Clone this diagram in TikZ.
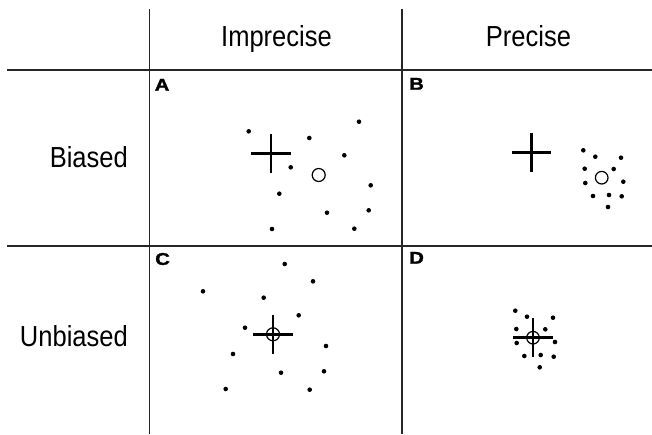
\documentclass[tikz,border=0pt]{standalone}
\usepackage{fontspec}
\setmainfont{Liberation Sans}
\newfontfamily\hdrfont[FakeStretch=0.88]{Liberation Sans}
\newfontfamily\tagfont[FakeStretch=1.2,FakeBold=1.5]{Liberation Sans}
\begin{document}
\begin{tikzpicture}[x=1pt,y=-1pt,
  grid/.style={line width=1.1pt,draw=black!85},
  header/.style={font=\hdrfont\fontsize{29}{30}\selectfont,inner sep=0pt},
  tag/.style={font=\tagfont\bfseries\fontsize{17}{17}\selectfont,inner sep=0pt,anchor=north west},
  crossbar/.style={line width=2.5pt,line cap=butt},
  meanring/.style={line width=1.2pt},
  shot/.style={fill=black}]
\useasboundingbox (0,0) rectangle (652,434);

% table rules
\draw[grid] (149.5,9) -- (149.5,434);
\draw[grid] (402,9) -- (402,434);
\draw[grid] (7,70) -- (652,70);
\draw[grid] (7,246) -- (652,246);

% column and row headings
\node[header,anchor=base] (colI) at (276.5,46.7) {Imprecise};
\node[header,anchor=base] (colP) at (528.5,46.7) {Precise};
\node[header,anchor=base east] (rowB) at (128,167.3) {Biased};
\node[header,anchor=base east] (rowU) at (128,346.5) {Unbiased};

% panel letters
\node[tag] (tA) at (154.5,78.8) {A};
\node[tag] (tB) at (409,77.8) {B};
\node[tag] (tC) at (155,252.8) {C};
\node[tag] (tD) at (409,251.8) {D};

\newcommand{\shots}[1]{\foreach \p in {#1} \fill[shot] \p circle (2.3);}

% A: biased, imprecise
\draw[crossbar] (251,153.3) -- (291,153.3);
\draw[crossbar] (271,134.3) -- (271,172.5);
\draw[meanring] (318.7,175) circle (6.5);
\shots{(248.7,131.3),(309.3,138),(359,121.7),(344.3,155.3),(290.7,167.3),(370.7,185.3),(279.3,193.7),(327,212.7),(368.7,210.3),(272,229),(354.3,228.7)}

% B: biased, precise
\draw[crossbar] (512,152.7) -- (551.4,152.7);
\draw[crossbar] (531.7,133.4) -- (531.7,172);
\draw[meanring] (601.7,177.7) circle (6.3);
\shots{(583.3,150.3),(595.3,156.7),(621,157.7),(584.7,168.7),(613.7,169),(585.3,183),(623.3,181.7),(593,196),(609,195),(621.7,196.3),(608,207)}

% C: unbiased, imprecise
\draw[crossbar] (253.3,334.3) -- (292.7,334.3);
\draw[crossbar] (273,314.8) -- (273,353.8);
\draw[meanring] (273,334.3) circle (6.5);
\shots{(284.7,264),(313,281.3),(203,291.3),(263.7,297.7),(298.7,315.3),(245,327.7),(326,346),(233,354),(281,372.7),(324,371.3),(225.7,389),(309.7,389.7)}

% D: unbiased, precise
\draw[crossbar] (513.3,337.7) -- (552.7,337.7);
\draw[crossbar] (533,318.2) -- (533,357.2);
\draw[meanring] (533,337.7) circle (6.3);
\shots{(515.3,310.7),(527,316.7),(553,317.7),(516.3,329),(545.3,329.3),(516.7,343),(555,342),(524.3,356),(540.7,355),(553.7,356.7),(539.7,367.3)}
\end{tikzpicture}
\end{document}
